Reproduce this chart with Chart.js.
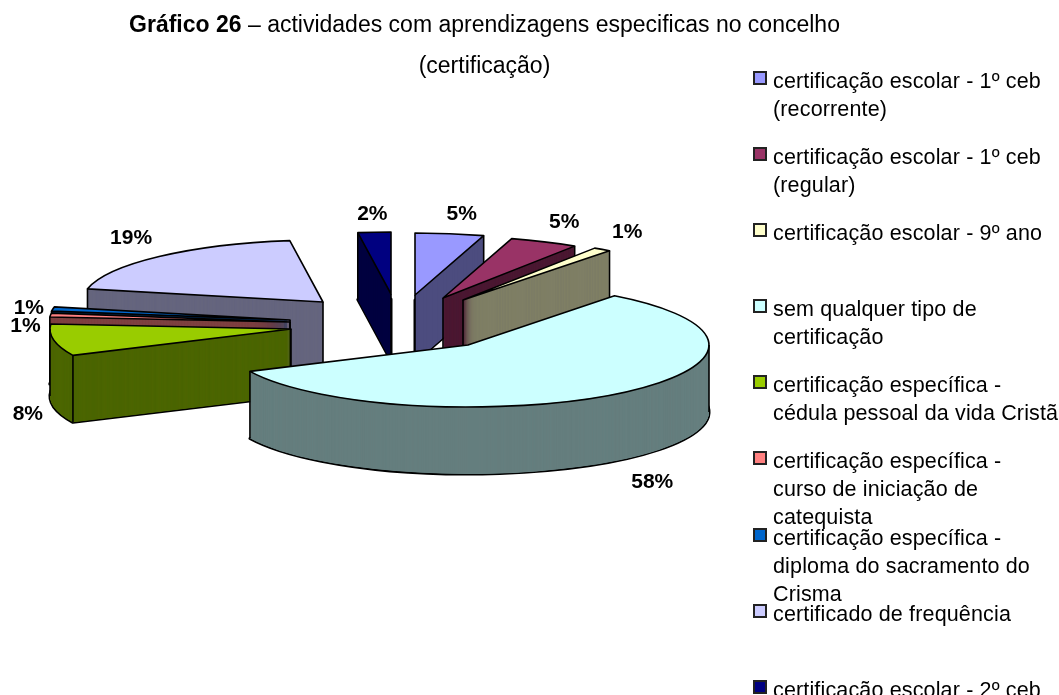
<!DOCTYPE html>
<html lang="pt">
<head>
<meta charset="utf-8">
<title>Gráfico 26</title>
<script src="https://cdn.jsdelivr.net/npm/chart.js@4/dist/chart.umd.min.js"></script>
<style>
  html, body { margin: 0; padding: 0; background: #fff; }
  body { position: relative; width: 1059px; height: 695px; overflow: hidden; font-family: "Liberation Sans", Arial, sans-serif; color: #000; }
  canvas { position: absolute; left: 0; top: 0; }
  .title { position: absolute; left: 0; width: 969px; text-align: center; font-size: 23px; white-space: nowrap; }
  #legend { position: absolute; left: 753px; top: 67px; }
  .item { position: relative; height: 76.1px; font-size: 21.5px; letter-spacing: 0.15px; line-height: 28px; white-space: pre; padding-left: 20px; }
  .box { position: absolute; left: 0; top: 4px; width: 10px; height: 10px; border: 2px solid #222; }
</style>
</head>
<body>
<canvas id="pie" width="1059" height="695"></canvas>
<div class="title" style="top:11px"><b>Gráfico 26</b> – actividades com aprendizagens especificas no concelho</div>
<div class="title" style="top:52px">(certificação)</div>
<div id="legend"></div>

<script>
// Data (the printed labels are these values rounded)
const categories = [
  "certificação escolar - 1º ceb\n(recorrente)",
  "certificação escolar - 1º ceb\n(regular)",
  "certificação escolar - 9º ano",
  "sem qualquer tipo de\ncertificação",
  "certificação específica -\ncédula pessoal da vida Cristã",
  "certificação específica -\ncurso de iniciação de\ncatequista",
  "certificação específica -\ndiploma do sacramento do\nCrisma",
  "certificado de frequência",
  "certificação escolar - 2º ceb"
];
const percentages = [4.6, 4.6, 1.2, 57.6, 8.3, 1.0, 1.1, 19.4, 2.2];
const sliceColors = ["#9999FF", "#993366", "#FFFFCC", "#CCFFFF", "#99CC00", "#FF8080", "#0066CC", "#CCCCFF", "#000080"];

// 3D look of the pie
const pieCenter = { x: 468, y: 345 };
const pieRadius = 241;
const tilt = 0.257;
const depth = 67;
const explode = [[-53, -50], [-25, -47], [-5, -45], [0, 0], [-177, -16], [-178, -23], [-178, -25], [-145, -43], [-77, -51]];
const labelNudge = [[12, -20], [20, -20], [25, -17], [33, 89], [-26, 74], [-25, 11], [-24, -1], [-28, -18], [-2, -18]];
const drawOrder = [8, 0, 1, 2, 7, 6, 5, 4, 3];

// Half the brightness of a slice colour, for its side wall
function wallColor(hex) {
  let r = parseInt(hex.substr(1, 2), 16) >> 1;
  let g = parseInt(hex.substr(3, 2), 16) >> 1;
  let b = parseInt(hex.substr(5, 2), 16) >> 1;
  return "rgb(" + r + "," + g + "," + b + ")";
}

// Top outline of a slice, as a path on the flattened ellipse
function slicePath(el, cx, cy) {
  let p = new Path2D();
  p.moveTo(cx, cy);
  p.ellipse(cx, cy, el.outerRadius, el.outerRadius * tilt, 0, el.startAngle, el.endAngle);
  p.closePath();
  return p;
}

// Let the library draw an arc squashed and moved to where the slice sits
function drawArc(ctx, el, cx, cy, color) {
  let saved = el.options;
  el.options = Object.assign({}, saved, { backgroundColor: color });
  ctx.save();
  ctx.translate(cx, cy);
  ctx.scale(1, tilt);
  ctx.translate(-el.x, -el.y);
  el.draw(ctx);
  ctx.restore();
  el.options = saved;
}

// Vertical edges of a wall, only where the top face does not hide them
function drawEdges(ctx, el, cx, cy, top) {
  let rx = el.outerRadius;
  let ry = rx * tilt;
  let points = [[cx, cy]];
  [el.startAngle, el.endAngle].forEach(function(a) {
    points.push([cx + rx * Math.cos(a), cy + ry * Math.sin(a)]);
  });
  points = points.filter(function(pt) {
    return !ctx.isPointInPath(top, pt[0], pt[1] + 3);
  });
  // left and right ends of the ellipse are always on the silhouette
  [0, Math.PI, 2 * Math.PI].forEach(function(a) {
    if (a > el.startAngle && a < el.endAngle) {
      points.push([cx + rx * Math.cos(a), cy]);
    }
  });
  ctx.beginPath();
  points.forEach(function(pt) {
    ctx.moveTo(pt[0], pt[1]);
    ctx.lineTo(pt[0], pt[1] + depth);
  });
  ctx.stroke();
}

// Plugin that draws the extruded pie from the arcs of the chart
const pie3d = {
  id: "pie3d",
  beforeDatasetDraw: function(chart) {
    let ctx = chart.ctx;
    let arcs = chart.getDatasetMeta(0).data;
    ctx.save();
    ctx.strokeStyle = "#000";
    ctx.lineJoin = "round";
    drawOrder.forEach(function(i) {
      let el = arcs[i];
      let cx = pieCenter.x + explode[i][0];
      let cy = pieCenter.y + explode[i][1];
      let top = slicePath(el, cx, cy);

      ctx.lineWidth = 3;
      ctx.stroke(slicePath(el, cx, cy + depth));
      // small steps, so the wall closes even near the tip of a thin slice
      for (let d = depth; d > 0; d -= 0.25) {
        drawArc(ctx, el, cx, cy + d, wallColor(sliceColors[i]));
      }
      drawArc(ctx, el, cx, cy, sliceColors[i]);

      ctx.lineWidth = 1.6;
      ctx.stroke(top);
      drawEdges(ctx, el, cx, cy, top);
    });
    ctx.restore();
    return false;
  },
  afterDraw: function(chart) {
    let ctx = chart.ctx;
    let arcs = chart.getDatasetMeta(0).data;
    ctx.save();
    ctx.fillStyle = "#000";
    ctx.font = "bold 21px 'Liberation Sans', Arial, sans-serif";
    ctx.textAlign = "center";
    ctx.textBaseline = "middle";
    arcs.forEach(function(el, i) {
      let mid = (el.startAngle + el.endAngle) / 2;
      let x = pieCenter.x + explode[i][0] + el.outerRadius * Math.cos(mid) + labelNudge[i][0];
      let y = pieCenter.y + explode[i][1] + el.outerRadius * tilt * Math.sin(mid) + labelNudge[i][1];
      ctx.fillText(Math.round(percentages[i]) + "%", x, y);
    });
    ctx.restore();
  }
};

let chart = new Chart(document.getElementById("pie").getContext("2d"), {
  type: "pie",
  data: {
    labels: categories,
    datasets: [{
      data: percentages,
      backgroundColor: sliceColors,
      borderWidth: 0,
      radius: pieRadius
    }]
  },
  options: {
    responsive: false,
    animation: false,
    events: [],
    plugins: { legend: { display: false }, tooltip: { enabled: false } }
  },
  plugins: [pie3d]
});

// Legend as real text, next to the chart
let legend = document.getElementById("legend");
chart.data.labels.forEach(function(label, i) {
  let item = document.createElement("div");
  item.className = "item";
  let box = document.createElement("span");
  box.className = "box";
  box.style.background = sliceColors[i];
  item.appendChild(box);
  item.appendChild(document.createTextNode(label));
  legend.appendChild(item);
});
</script>
</body>
</html>
